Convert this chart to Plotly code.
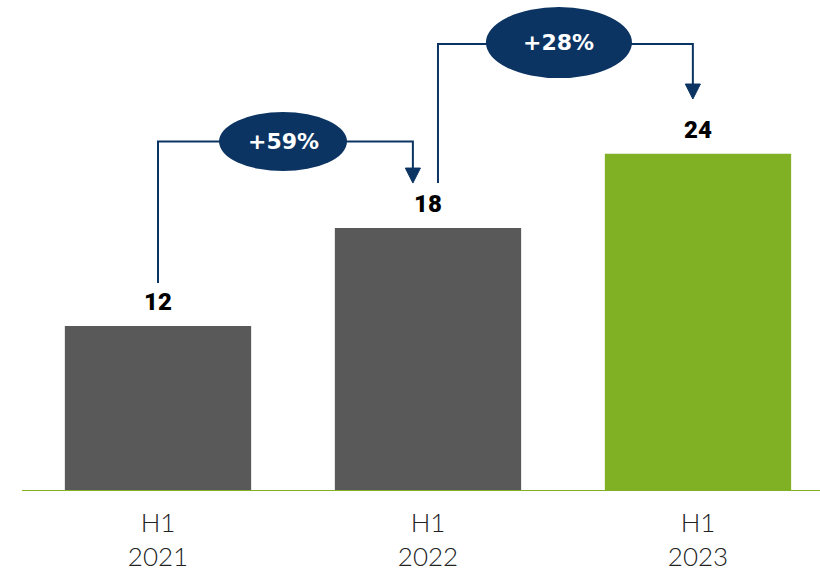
import plotly.graph_objects as go

categories = ["H1<br>2021", "H1<br>2022", "H1<br>2023"]
values = [11.55, 18.4, 23.6]
value_labels = ["12", "18", "24"]
growth_labels = ["+59%", "+28%"]
bar_colors = ["#595959", "#595959", "#80b125"]

NAVY = "#0c3462"
GREEN = "#80b125"

x = [0, 1, 2]
fig = go.Figure()
fig.add_trace(go.Bar(
    x=x, y=values, marker=dict(color=bar_colors, line=dict(width=0)),
    width=0.69, hoverinfo="skip",
))

# value labels above bars
for xi, v, t in zip(x, values, value_labels):
    fig.add_annotation(x=xi, y=v + 1.65, text=t, showarrow=False,
                       xanchor="center", yanchor="middle",
                       font=dict(family="Roboto", size=24, color="#000000", weight=900))

# baseline
fig.add_shape(type="line", x0=-0.504, x1=2.46, y0=0, y1=0,
              line=dict(color=GREEN, width=2), layer="above")

conns = [
    dict(xs=0.0, yb=values[0] + 3.0, ytop=values[0] + 12.9, xe=0.944, ytip=values[1] + 3.15,
         cx=0.463, cy=values[0] + 12.9, ew=0.474, eh=4.13, label=growth_labels[0]),
    dict(xs=1.037, yb=values[1] + 3.15, ytop=values[1] + 12.88, xe=1.981, ytip=values[2] + 3.83,
         cx=1.485, cy=values[1] + 12.98, ew=0.541, eh=4.97, label=growth_labels[1]),
]
head_h = 1.05   # in y units (~15px)
head_w = 0.028  # in x units (~7.5px half width)
for c in conns:
    path = (f"M {c['xs']},{c['yb']} L {c['xs']},{c['ytop']} "
            f"L {c['xe']},{c['ytop']} L {c['xe']},{c['ytip'] + head_h}")
    fig.add_shape(type="path", path=path, line=dict(color=NAVY, width=2))
    tri = (f"M {c['xe'] - head_w},{c['ytip'] + head_h} L {c['xe'] + head_w},{c['ytip'] + head_h} "
           f"L {c['xe']},{c['ytip']} Z")
    fig.add_shape(type="path", path=tri, fillcolor=NAVY, line=dict(color=NAVY, width=1))
    fig.add_shape(type="circle", x0=c['cx'] - c['ew'] / 2, x1=c['cx'] + c['ew'] / 2,
                  y0=c['cy'] - c['eh'] / 2, y1=c['cy'] + c['eh'] / 2,
                  fillcolor=NAVY, line=dict(color=NAVY, width=0))
    fig.add_annotation(x=c['cx'], y=c['cy'], text=c['label'], showarrow=False,
                       xanchor="center", yanchor="middle",
                       font=dict(family="DejaVu Sans", size=22, color="#ffffff", weight="bold"))

fig.update_layout(
    width=820, height=574,
    margin=dict(l=0, r=0, t=0, b=83),
    paper_bgcolor="white", plot_bgcolor="white",
    showlegend=False,
    xaxis=dict(range=[-0.5852, 2.4519], tickmode="array", tickvals=x, ticktext=categories,
               showgrid=False, zeroline=False, showline=False, ticks="",
               ticklabelstandoff=14,
               tickfont=dict(family="Lato", size=26, color="#222222", weight=300)),
    yaxis=dict(range=[0, 34.36], visible=False, showgrid=False, zeroline=False),
)

fig.write_html("out.html")
